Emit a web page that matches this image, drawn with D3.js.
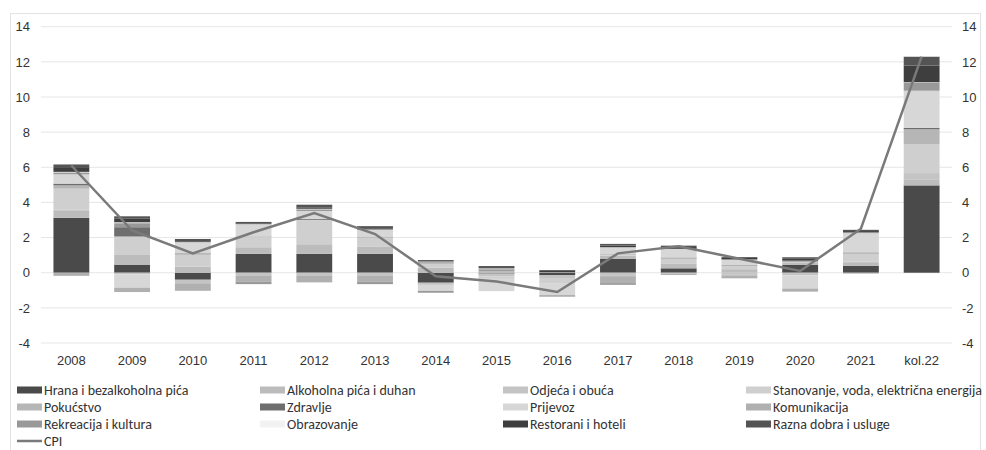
<!DOCTYPE html>
<html>
<head>
<meta charset="utf-8">
<script src="https://cdn.jsdelivr.net/npm/d3@7"></script>
<style>
  body { margin: 0; background: #fff; }
  svg { display: block; font-family: Carlito, Calibri, Lato, sans-serif; }
  .axis text { fill: #333; font-size: 13px; }
  .legend text { fill: #333; font-size: 14px; }
</style>
</head>
<body>
<div id="chart"></div>
<script>
// categories and series
const years = ["2008", "2009", "2010", "2011", "2012", "2013", "2014", "2015", "2016", "2017", "2018", "2019", "2020", "2021", "kol.22"];

const seriesNames = [
  "Hrana i bezalkoholna pića", "Alkoholna pića i duhan", "Odjeća i obuća", "Stanovanje, voda, električna energija",
  "Pokućstvo", "Zdravlje", "Prijevoz", "Komunikacija",
  "Rekreacija i kultura", "Obrazovanje", "Restorani i hoteli", "Razna dobra i usluge"
];

const hrana        = [3.12, 0.46, -0.40, 1.07, 1.07, 1.07, -0.57, -0.05, -0.15, 0.78, 0.25, 0.00, 0.44, 0.40, 4.97];
const alkohol      = [0.40, 0.55, 0.35, 0.38, 0.55, 0.40, 0.30, 0.10, 0.02, 0.20, 0.25, 0.20, 0.15, 0.20, 0.35];
const odjeca       = [0.06, -0.10, -0.20, -0.15, -0.15, -0.15, -0.10, -0.15, -0.15, -0.15, -0.05, -0.10, -0.15, 0.02, 0.35];
const stanovanje   = [1.20, 1.05, 0.70, 0.57, 1.37, 0.55, 0.20, -0.15, -0.30, 0.05, 0.30, 0.20, 0.05, 0.45, 1.65];
const pokucstvo    = [0.19, 0.00, 0.00, 0.02, 0.02, 0.00, -0.03, 0.02, -0.02, -0.09, 0.02, -0.07, 0.00, 0.05, 0.84];
const zdravlje     = [0.10, 0.53, 0.05, 0.02, 0.06, 0.03, 0.02, 0.06, 0.02, 0.02, 0.04, 0.03, 0.05, 0.03, 0.08];
const prijevoz     = [0.53, -0.75, 0.60, 0.68, 0.44, 0.40, -0.34, -0.70, -0.65, 0.40, 0.50, 0.30, -0.75, 1.10, 2.10];
const komunikacija = [-0.18, -0.25, -0.43, -0.35, -0.40, -0.35, 0.12, 0.05, -0.10, -0.35, -0.08, -0.15, -0.10, -0.05, 0.02];
const rekreacija   = [0.11, 0.23, 0.02, -0.15, 0.10, -0.15, -0.10, 0.04, 0.00, -0.10, 0.00, 0.03, -0.07, 0.05, 0.46];
const obrazovanje  = [0.03, 0.05, 0.02, 0.02, 0.03, 0.01, 0.00, 0.00, 0.00, 0.00, 0.00, 0.00, 0.00, 0.00, 0.02];
const restorani    = [0.22, 0.20, 0.05, 0.05, 0.08, 0.07, 0.02, 0.05, 0.06, 0.10, 0.10, 0.08, 0.10, 0.07, 0.95];
const razna        = [0.20, 0.14, 0.13, 0.08, 0.15, 0.12, 0.06, 0.06, 0.05, 0.09, 0.08, 0.05, 0.09, 0.07, 0.50];

const cpi = [6.1, 2.4, 1.1, 2.3, 3.4, 2.2, -0.2, -0.5, -1.1, 1.1, 1.5, 0.8, 0.1, 2.5, 12.3];

const yTicks = [-4, -2, 0, 2, 4, 6, 8, 10, 12, 14];

const seriesValues = [hrana, alkohol, odjeca, stanovanje, pokucstvo, zdravlje, prijevoz, komunikacija, rekreacija, obrazovanje, restorani, razna];
const seriesColors = ["#4a4a4a", "#bcbcbc", "#c4c4c4", "#cfcfcf", "#b6b6b6", "#6e6e6e", "#d7d7d7", "#b0b0b0", "#999999", "#f2f2f2", "#3e3e3e", "#545454"];

// build rows for d3.stack
const rows = years.map((y, i) => {
  const r = {year: y};
  seriesNames.forEach((s, k) => { r[s] = seriesValues[k][i]; });
  return r;
});

const W = 986, H = 450;
const svg = d3.select("#chart").append("svg")
  .attr("width", W)
  .attr("height", H);

// outer frame
svg.append("rect")
  .attr("x", 10.5).attr("y", 13.5)
  .attr("width", 970).attr("height", 450)
  .attr("fill", "none")
  .attr("stroke", "#e3e3e3");

const plot = {left: 41, right: 952, top: 26.7, bottom: 343};

const x = d3.scaleBand().domain(years).range([plot.left, plot.right]).paddingInner(0.41).paddingOuter(0.205);
const y = d3.scaleLinear().domain([-4, 14]).range([plot.bottom, plot.top]);

// gridlines
svg.append("g")
  .selectAll("line")
  .data(yTicks)
  .join("line")
  .attr("x1", plot.left).attr("x2", plot.right)
  .attr("y1", d => y(d)).attr("y2", d => y(d))
  .attr("stroke", "#e6e6e6")
  .attr("stroke-width", 1);

const fmt = d => String(d);

// left axis
svg.append("g")
  .attr("class", "axis")
  .attr("transform", `translate(${plot.left - 11},0)`)
  .call(d3.axisLeft(y).tickValues(yTicks).tickFormat(fmt).tickSize(0).tickPadding(0))
  .call(g => g.select(".domain").remove());

// right axis
svg.append("g")
  .attr("class", "axis")
  .attr("transform", `translate(${plot.right + 10},0)`)
  .call(d3.axisRight(y).tickValues(yTicks).tickFormat(fmt).tickSize(0).tickPadding(0))
  .call(g => g.select(".domain").remove());

// category axis
svg.append("g")
  .attr("class", "axis")
  .attr("transform", `translate(0,${plot.bottom})`)
  .call(d3.axisBottom(x).tickSize(0).tickPadding(13))
  .call(g => g.select(".domain").remove());

// stacked bars
const stack = d3.stack().keys(seriesNames).offset(d3.stackOffsetDiverging);
const layers = stack(rows);

svg.append("g")
  .selectAll("g")
  .data(layers)
  .join("g")
  .attr("fill", (d, i) => seriesColors[i])
  .selectAll("rect")
  .data(d => d)
  .join("rect")
  .attr("x", d => x(d.data.year))
  .attr("width", x.bandwidth())
  .attr("y", d => y(Math.max(d[0], d[1])))
  .attr("height", d => Math.abs(y(d[0]) - y(d[1])));

// CPI line
svg.append("path")
  .datum(cpi)
  .attr("fill", "none")
  .attr("stroke", "#7a7a7a")
  .attr("stroke-width", 2.5)
  .attr("d", d3.line()
    .x((d, i) => x(years[i]) + x.bandwidth() / 2)
    .y(d => y(d)));

// legend
const legendItems = seriesNames.map((s, i) => ({name: s, color: seriesColors[i], type: "bar"}));
legendItems.push({name: "CPI", color: "#7a7a7a", type: "line"});
const colX = [17, 260, 503, 746];
const rowY = [390, 407, 424, 441];

const legend = svg.append("g").attr("class", "legend")
  .selectAll("g")
  .data(legendItems)
  .join("g")
  .attr("transform", (d, i) => `translate(${colX[i % 4]},${rowY[Math.floor(i / 4)]})`);

legend.filter(d => d.type === "bar")
  .append("rect")
  .attr("x", 0).attr("y", -3.5)
  .attr("width", 25).attr("height", 7)
  .attr("fill", d => d.color);

legend.filter(d => d.type === "line")
  .append("line")
  .attr("x1", 0).attr("x2", 25)
  .attr("y1", 0).attr("y2", 0)
  .attr("stroke", d => d.color)
  .attr("stroke-width", 2.5);

legend.append("text")
  .attr("x", 27)
  .attr("dy", "0.35em")
  .text(d => d.name);
</script>
</body>
</html>
